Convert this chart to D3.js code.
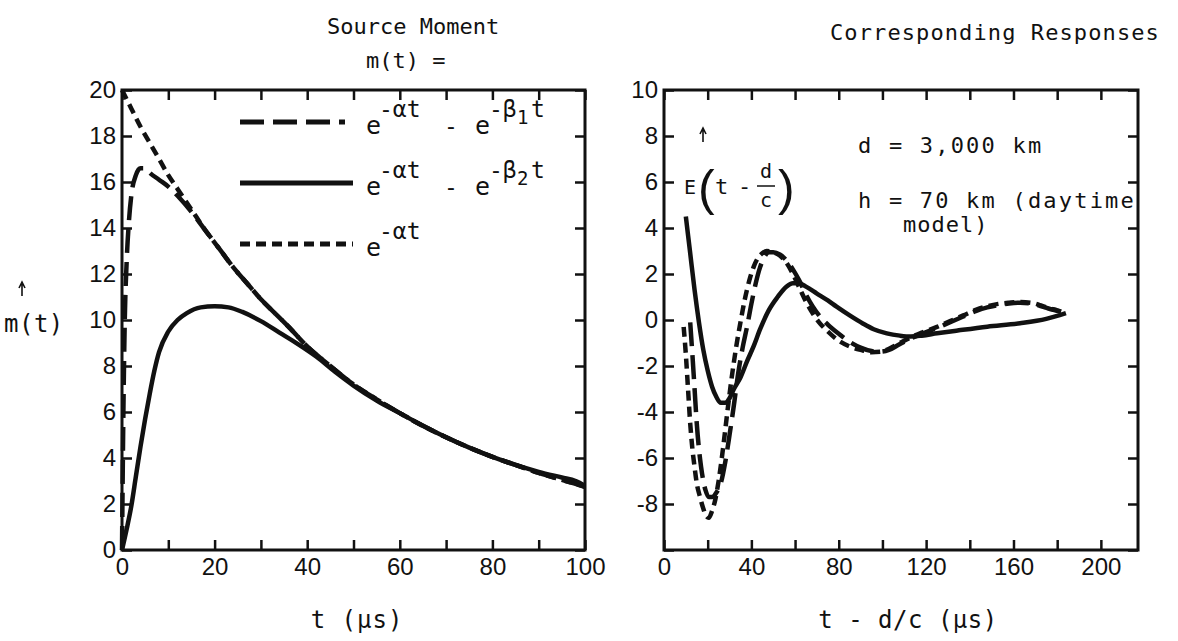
<!DOCTYPE html>
<html>
<head>
<meta charset="utf-8">
<script src="https://cdn.jsdelivr.net/npm/d3@7"></script>
<style>
  body { margin: 0; background: #fff; }
  .tick line { stroke: #111; stroke-width: 2.5; }
</style>
</head>
<body>
<div id="chart"></div>
<script>
// ---- left panel: source moment m(t) ----
const leftXTicks = [0, 10, 20, 30, 40, 50, 60, 70, 80, 90, 100];
const leftXLabels = [0, 20, 40, 60, 80, 100];
const leftYTicks = [0, 2, 4, 6, 8, 10, 12, 14, 16, 18, 20];

// e^-at (short dash)
const alphaT = [0, 2, 4, 6, 8, 10, 12, 15, 18, 21, 24, 27, 30, 33, 36, 40, 45, 50, 55, 60, 65, 70, 75, 80, 85, 90, 95, 100];
const alphaV = [20, 19.2, 18.4, 17.7, 17.0, 16.3, 15.7, 14.8, 13.9, 13.1, 12.3, 11.6, 10.9, 10.3, 9.7, 8.85, 8.0, 7.2, 6.55, 5.95, 5.4, 4.9, 4.45, 4.05, 3.7, 3.35, 3.05, 2.75];
// e^-at - e^-b1t (long dash)
const beta1T = [0, 0.3, 0.6, 1, 1.5, 2, 3, 4, 5, 6, 8, 10, 12, 15, 18, 21, 24, 27, 30, 33, 36, 40, 45, 50, 55, 60, 65, 70, 75, 80, 85, 90, 95, 100];
const beta1V = [0, 6, 10, 12.5, 14.3, 15.4, 16.3, 16.6, 16.6, 16.4, 16.1, 15.8, 15.4, 14.7, 13.9, 13.1, 12.3, 11.6, 10.9, 10.3, 9.7, 8.85, 8.0, 7.2, 6.55, 5.95, 5.4, 4.9, 4.45, 4.05, 3.7, 3.35, 3.05, 2.75];
// e^-at - e^-b2t (solid)
const beta2T = [0, 1, 2, 3, 4, 5, 6, 7, 8, 10, 12, 14, 17, 20, 23, 26, 30, 34, 38, 42, 46, 50, 55, 60, 65, 70, 75, 80, 85, 90, 95, 98, 100];
const beta2V = [0, 0.9, 1.9, 3.2, 4.5, 5.7, 6.8, 7.8, 8.6, 9.5, 10.0, 10.3, 10.55, 10.6, 10.55, 10.35, 9.95, 9.45, 8.95, 8.4, 7.75, 7.15, 6.5, 5.95, 5.4, 4.9, 4.45, 4.05, 3.7, 3.4, 3.15, 3.0, 2.8];

// ---- right panel: responses E(t - d/c) ----
const rightXTicks = [0, 20, 40, 60, 80, 100, 120, 140, 160, 180, 200];
const rightXLabels = [0, 40, 80, 120, 160, 200];
const rightYTicks = [-10, -8, -6, -4, -2, 0, 2, 4, 6, 8, 10];
const rightYLabels = [-8, -6, -4, -2, 0, 2, 4, 6, 8, 10];

const respAlphaT = [9, 10, 11, 12, 13, 14, 15, 16.5, 18, 19.5, 20.5, 22, 23.5, 25, 27, 29, 31, 33, 35, 37, 39, 41, 43, 45, 47, 50, 53, 56, 59, 62, 65, 68, 71, 75, 80, 85, 90, 95, 99, 103, 107, 112, 118, 125, 131, 137, 143, 148, 153, 158, 163, 168, 172, 176, 180, 184];
const respAlphaV = [-0.3, -1.5, -3.0, -4.5, -5.6, -6.4, -7.1, -7.7, -8.2, -8.55, -8.6, -8.3, -7.8, -7.0, -5.6, -4.0, -2.5, -1.2, -0.1, 0.9, 1.7, 2.3, 2.7, 2.9, 3.0, 2.95, 2.8, 2.5, 2.0, 1.4, 0.8, 0.3, -0.1, -0.5, -0.9, -1.15, -1.3, -1.4, -1.38, -1.25, -1.05, -0.8, -0.55, -0.3, -0.05, 0.2, 0.45, 0.6, 0.7, 0.75, 0.78, 0.75, 0.65, 0.52, 0.42, 0.3];
const respBeta1T = [12, 13, 14, 15, 16, 17, 18, 19, 20.5, 22, 24, 26, 28, 30, 32, 34, 36, 38, 40, 42, 44, 46, 48, 50, 53, 56, 59, 62, 65, 68, 71, 75, 80, 85, 90, 95, 99, 103, 107, 112, 118, 125, 131, 137, 143, 148, 153, 158, 163, 168, 172, 176, 180, 184];
const respBeta1V = [-0.1, -1.5, -3.0, -4.5, -5.6, -6.4, -7.0, -7.4, -7.7, -7.7, -7.5, -7.1, -6.2, -5.0, -3.7, -2.3, -1.2, -0.3, 0.7, 1.6, 2.3, 2.75, 2.95, 2.95, 2.85, 2.6, 2.2, 1.7, 1.1, 0.6, 0.2, -0.2, -0.6, -0.95, -1.2, -1.35, -1.38, -1.3, -1.1, -0.85, -0.6, -0.35, -0.1, 0.15, 0.4, 0.55, 0.65, 0.72, 0.75, 0.72, 0.62, 0.5, 0.4, 0.3];
const respBeta2T = [10, 12, 14, 16, 18, 20, 22, 24, 26, 28, 30, 32, 35, 38, 41, 44, 48, 52, 56, 59, 62, 65, 70, 75, 79, 85, 91, 96, 102, 108, 113, 118, 125, 135, 148, 163, 175, 184];
const respBeta2V = [4.5, 2.9, 1.3, -0.1, -1.3, -2.2, -2.9, -3.35, -3.6, -3.6, -3.4, -3.0, -2.5, -1.8, -1.15, -0.4, 0.43, 1.0, 1.45, 1.6, 1.6, 1.45, 1.15, 0.85, 0.58, 0.2, -0.15, -0.4, -0.58, -0.68, -0.72, -0.68, -0.58, -0.45, -0.29, -0.14, 0.05, 0.3];

const numFont = "'Liberation Sans', Arial, sans-serif";
const txtFont = "'DejaVu Sans Mono', monospace";

const svg = d3.select("#chart").append("svg")
    .attr("width", 1178)
    .attr("height", 641);

const styles = {
    long: "24,9",
    short: "10,6",
    solid: null
};

function drawPanel(opts) {
    const x = d3.scaleLinear().domain(opts.xDomain).range(opts.xRange);
    const y = d3.scaleLinear().domain(opts.yDomain).range(opts.yRange);
    const [x0, x1] = opts.xRange;
    const [y0, y1] = opts.yRange; // bottom, top

    //bottom ticks with labels
    svg.append("g")
        .attr("transform", `translate(0,${y0})`)
        .call(d3.axisBottom(x).tickValues(opts.xTicks).tickSize(-10).tickPadding(8)
            .tickFormat(d => opts.xLabels.includes(d) ? d : ""))
        .call(g => g.select(".domain").remove());

    //top ticks, no labels
    svg.append("g")
        .attr("transform", `translate(0,${y1})`)
        .call(d3.axisTop(x).tickValues(opts.xTicks).tickSize(-10).tickFormat(""))
        .call(g => g.select(".domain").remove());

    //left ticks with labels
    svg.append("g")
        .attr("transform", `translate(${x0},0)`)
        .call(d3.axisLeft(y).tickValues(opts.yTicks).tickSize(-10).tickPadding(6)
            .tickFormat(d => opts.yLabels.includes(d) ? d : ""))
        .call(g => g.select(".domain").remove());

    //right ticks
    svg.append("g")
        .attr("transform", `translate(${x1},0)`)
        .call(d3.axisRight(y).tickValues(opts.yTicks).tickSize(-10).tickFormat(""))
        .call(g => g.select(".domain").remove());

    svg.selectAll(".tick text")
        .attr("font-family", numFont)
        .attr("font-size", 24)
        .attr("fill", "#111");

    //frame
    svg.append("rect")
        .attr("x", x0).attr("y", y1)
        .attr("width", x1 - x0).attr("height", y0 - y1)
        .attr("fill", "none").attr("stroke", "#111").attr("stroke-width", 3);

    const line = d3.line()
        .x(d => x(d[0]))
        .y(d => y(d[1]))
        .curve(d3.curveMonotoneX);

    opts.series.forEach(s => {
        svg.append("path")
            .datum(d3.zip(s.t, s.v))
            .attr("d", line)
            .attr("fill", "none")
            .attr("stroke", "#111")
            .attr("stroke-width", 4.5)
            .attr("stroke-linejoin", "round")
            .attr("stroke-dasharray", styles[s.style]);
    });
}

drawPanel({
    xDomain: [0, 100], xRange: [122, 585],
    yDomain: [0, 20], yRange: [550, 90],
    xTicks: leftXTicks, xLabels: leftXLabels,
    yTicks: leftYTicks, yLabels: leftYTicks,
    series: [
        { t: alphaT, v: alphaV, style: "short" },
        { t: beta1T, v: beta1V, style: "long" },
        { t: beta2T, v: beta2V, style: "solid" }
    ]
});

drawPanel({
    xDomain: [0, 217], xRange: [664, 1138],
    yDomain: [-10, 10], yRange: [550, 90],
    xTicks: rightXTicks, xLabels: rightXLabels,
    yTicks: rightYTicks, yLabels: rightYLabels,
    series: [
        { t: respAlphaT, v: respAlphaV, style: "short" },
        { t: respBeta1T, v: respBeta1V, style: "long" },
        { t: respBeta2T, v: respBeta2V, style: "solid" }
    ]
});

//text helper
function txt(x, y, s, size, extra) {
    const t = svg.append("text")
        .attr("x", x).attr("y", y)
        .attr("font-family", txtFont)
        .attr("font-size", size || 22)
        .attr("fill", "#111")
        .text(s);
    if (extra) extra(t);
    return t;
}

//small vector arrow (drawn, not a glyph)
function vecArrow(x, yTop, len) {
    svg.append("path")
        .attr("d", `M${x},${yTop + len}V${yTop + 2}M${x - 3},${yTop + 6}L${x},${yTop}L${x + 3},${yTop + 6}`)
        .attr("fill", "none")
        .attr("stroke", "#111")
        .attr("stroke-width", 1.6);
}

//titles
txt(327, 34, "Source Moment", 22);
txt(366, 68, "m(t) =", 22);
txt(830, 40, "Corresponding Responses", 22).attr("letter-spacing", 1.1);

//axis titles
txt(357, 628, "t (\u00b5s)", 24, t => t.attr("text-anchor", "middle").attr("letter-spacing", 1));
txt(908, 628, "t - d/c (\u00b5s)", 24, t => t.attr("text-anchor", "middle").attr("letter-spacing", 0.5));

//left y label with vector arrow
txt(4, 332, "m(t)", 24).attr("letter-spacing", 0.5);
vecArrow(22, 282, 14);

//legend
const legendRows = [
    { y: 122, style: "long", x2: 345, sub: "1" },
    { y: 183, style: "solid", x2: 353, sub: "2" },
    { y: 244, style: "short", x2: 353, sub: null }
];
legendRows.forEach(r => {
    svg.append("line")
        .attr("x1", 240).attr("x2", r.x2)
        .attr("y1", r.y).attr("y2", r.y)
        .attr("stroke", "#111").attr("stroke-width", 5)
        .attr("stroke-dasharray", styles[r.style]);
    const base = r.y + 12;
    txt(366, base, "e", 25);
    txt(379, base - 17, "-\u03b1t", 23);
    if (r.sub) {
        txt(444, base, "-", 23);
        txt(475, base, "e", 25);
        txt(489, base - 17, "-\u03b2", 23);
        txt(517, base - 10, r.sub, 19);
        txt(531, base - 17, "t", 23);
    }
});

//right panel annotation
txt(858, 153, "d = 3,000 km", 22).attr("letter-spacing", 2.2);
txt(858, 208, "h = 70 km (daytime", 22).attr("letter-spacing", 2.2);
txt(903, 232, "model)", 22).attr("letter-spacing", 1);

txt(684, 194, "E", 20);
vecArrow(703, 128, 14);
txt(698, 205, "(", 50, t => t.attr("font-family", numFont).attr("font-weight", 300));
txt(715, 194, "t", 22);
txt(738, 194, "-", 22);
txt(760, 178, "d", 20);
svg.append("line").attr("x1", 757).attr("x2", 775).attr("y1", 186).attr("y2", 186)
    .attr("stroke", "#111").attr("stroke-width", 1.5);
txt(760, 207, "c", 20);
txt(778, 205, ")", 50, t => t.attr("font-family", numFont));
</script>
</body>
</html>
